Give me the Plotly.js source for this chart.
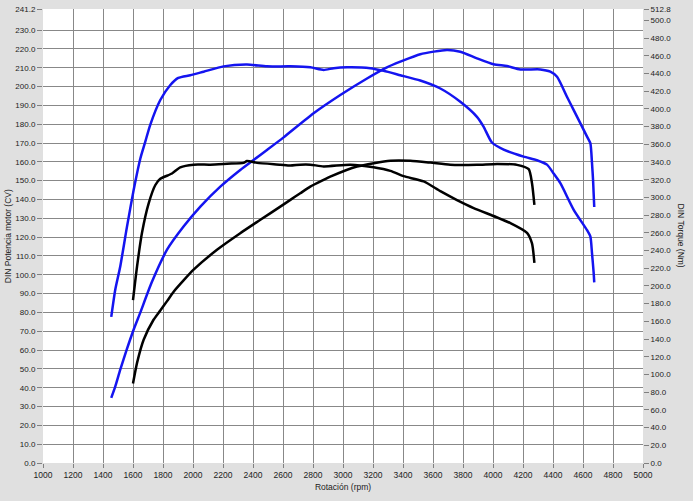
<!DOCTYPE html>
<html>
<head>
<meta charset="utf-8">
<script src="https://cdn.plot.ly/plotly-3.0.1.min.js"></script>
<style>
  html, body { margin: 0; padding: 0; background: #e0e0e0; }
  #chart { width: 693px; height: 501px; }
</style>
</head>
<body>
<div id="chart"></div>
<script>
// ---- Data ----
// Blue run: power (CV, left axis)
const bluePowerRpm = [1455,1482,1515,1558,1604,1649,1725,1827,1937,2049,2182,2315,2404,2493,2604,2804,2982,3160,3293,3382,3515,3693,3782,3893,4004,4093,4182,4315,4382,4427,4493,4538,4627,4649,4660,4667,4675];
const bluePowerCV  = [34.6,40.7,49.6,60.2,70.8,80,96,113.3,125.6,136.2,146.8,155.7,161,166.3,173,185.8,195.5,204.3,210.2,213.2,217.2,219.4,218.5,215,211.8,210.9,209.1,209.1,207.9,205.2,194.6,187.5,173.4,169.9,159.3,150.4,136];

// Blue run: torque (Nm, right axis)
const blueTorqueRpm = [1455,1482,1515,1560,1604,1649,1682,1715,1782,1849,1902,1982,2071,2204,2360,2493,2649,2782,2871,2938,3027,3182,3271,3382,3515,3649,3782,3893,3937,3993,4071,4204,4293,4360,4404,4449,4538,4627,4649,4660,4671,4675];
const blueTorqueNm  = [165,196,222,267,308,344,363,382,410,427,435,438,442,448,450,448,448,447,444,446,447,446,443,438,432,423,408,391,380,362,354,346,342,337,327,316,286,263,256,237,215,204];

// Black run: power (CV, left axis)
const blackPowerRpm = [1600,1627,1671,1737,1782,1827,1871,1937,2004,2160,2315,2449,2582,2649,2715,2782,2871,2915,3093,3316,3449,3582,3715,3893,4027,4160,4238,4260,4276];
const blackPowerCV  = [42.2,53.2,65.5,76.1,81,86,91,97,102.7,113.3,122.1,129.2,136.2,139.8,143.3,146.8,150.4,152.1,157.5,160.6,160.6,159.6,158.4,158.4,158.9,158.4,156.1,148.6,137.1];

// Black run: torque (Nm, right axis)
const blackTorqueRpm = [1600,1627,1660,1704,1749,1782,1860,1915,2004,2115,2227,2337,2360,2427,2582,2649,2715,2782,2871,3049,3204,3316,3404,3538,3649,3760,3871,4004,4116,4227,4260,4276];
const blackTorqueNm  = [184,222,260,293,314,321,327,334,337,337,338,339,341,339,337,336,337,337,335,337,334,330,324,318,307,297,288,279,271,260,248,226];

// Axis ticks
const rpmTicks = [1000,1200,1400,1600,1800,2000,2200,2400,2600,2800,3000,3200,3400,3600,3800,4000,4200,4400,4600,4800,5000];
const cvTicks  = [0,10,20,30,40,50,60,70,80,90,100,110,120,130,140,150,160,170,180,190,200,210,220,230,241.2];
const nmTicks  = [0,20,40,60,80,100,120,140,160,180,200,220,240,260,280,300,320,340,360,380,400,420,440,460,480,500,512.8];

// ---- Chart ----
const BLUE = '#1414f0';
const BLACK = '#000000';
const fontFam = '"Liberation Sans", Arial, sans-serif';
const lineStyle = (c) => ({ color: c, width: 2.5, shape: 'spline', smoothing: 0.6 });

const traces = [
  { x: bluePowerRpm, y: bluePowerCV, type: 'scatter', mode: 'lines', name: 'Potencia (azul)',
    line: lineStyle(BLUE), yaxis: 'y' },
  { x: blueTorqueRpm, y: blueTorqueNm, type: 'scatter', mode: 'lines', name: 'Torque (azul)',
    line: lineStyle(BLUE), yaxis: 'y2' },
  { x: blackPowerRpm, y: blackPowerCV, type: 'scatter', mode: 'lines', name: 'Potencia (negro)',
    line: lineStyle(BLACK), yaxis: 'y' },
  { x: blackTorqueRpm, y: blackTorqueNm, type: 'scatter', mode: 'lines', name: 'Torque (negro)',
    line: lineStyle(BLACK), yaxis: 'y2' }
];

const layout = {
  width: 693, height: 501,
  margin: { l: 43, r: 50, t: 9, b: 38, pad: 0 },
  paper_bgcolor: '#e0e0e0',
  plot_bgcolor: '#ffffff',
  showlegend: false,
  font: { family: fontFam, size: 8, color: '#222222' },
  xaxis: {
    range: [1000, 5000],
    tickvals: rpmTicks,
    ticktext: rpmTicks.map(String),
    ticks: 'outside', ticklen: 4, tickcolor: '#808080',
    showgrid: true, gridcolor: '#888888', gridwidth: 1,
    zeroline: false, showline: false,
    tickfont: { size: 8.5 },
    title: { text: 'Rotación (rpm)', font: { size: 8.5 }, standoff: 4 }
  },
  yaxis: {
    range: [0, 241.2],
    tickvals: cvTicks,
    ticktext: cvTicks.map(v => v.toFixed(1)),
    ticks: 'outside', ticklen: 5, tickcolor: '#808080',
    showgrid: true, gridcolor: '#888888', gridwidth: 1,
    zeroline: false, showline: false,
    tickfont: { size: 8 }
  },
  yaxis2: {
    range: [0, 512.8],
    overlaying: 'y', side: 'right',
    tickvals: nmTicks,
    ticktext: nmTicks.map(v => v.toFixed(1)),
    ticks: 'outside', ticklen: 5, tickcolor: '#808080',
    showgrid: false, zeroline: false, showline: false,
    tickfont: { size: 8 }
  },
  annotations: [
    { text: 'DIN Potencia motor (CV)', xref: 'paper', yref: 'paper',
      x: -0.058, y: 0.5, xanchor: 'center', yanchor: 'middle',
      textangle: -90, showarrow: false, font: { size: 8.5, family: fontFam, color: '#222222' } },
    { text: 'DIN Torque (Nm)', xref: 'paper', yref: 'paper',
      x: 1.064, y: 0.5, xanchor: 'center', yanchor: 'middle',
      textangle: 90, showarrow: false, font: { size: 8.5, family: fontFam, color: '#222222' } }
  ]
};

Plotly.newPlot('chart', traces, layout, { displayModeBar: false, staticPlot: true });
</script>
</body>
</html>
